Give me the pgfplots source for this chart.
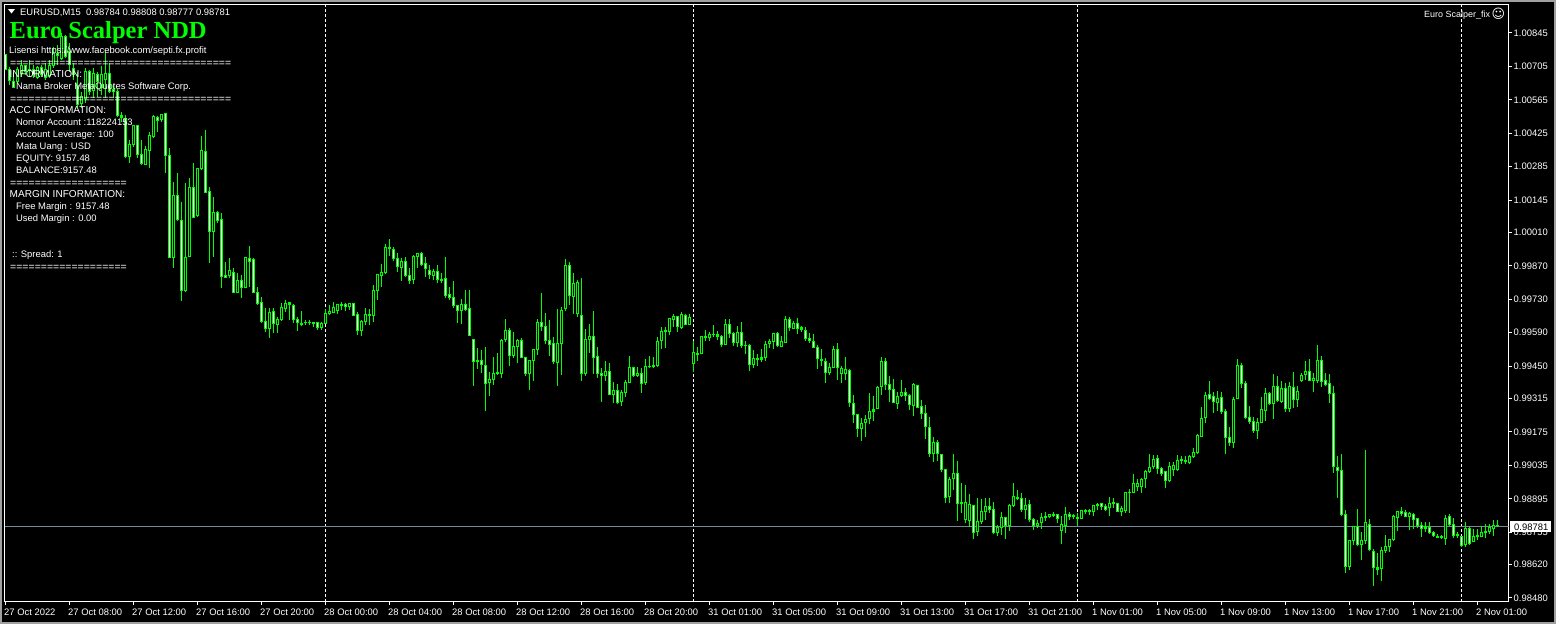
\documentclass[border=0pt]{standalone}
\usepackage{fontspec}
\setmainfont{Liberation Sans}
\newfontfamily\titlefont{Liberation Serif}
\newfontfamily\symfont{DejaVu Sans}
\usepackage{pgfplots}
\usepackage{pgfplotstable}
\pgfplotsset{compat=1.18}
\definecolor{cgreen}{HTML}{00FF00}
\definecolor{bidline}{HTML}{778899}
\definecolor{winframe}{HTML}{A0A0A0}

% bars of the M15 chart, prices in points (1e-5)
\pgfplotstableread{
i h l o c
0 100753 100690 100753 100690
1 100704 100627 100694 100644
2 100683 100613 100641 100618
3 100704 100634 100641 100693
4 100732 100662 100673 100707
5 100708 100669 100707 100683
6 100732 100662 100690 100687
7 100711 100655 100690 100669
8 100708 100651 100659 100700
9 100711 100659 100700 100669
10 100718 100648 100659 100693
11 100732 100655 100665 100707
12 100788 100697 100707 100760
13 100795 100711 100760 100749
14 100843 100732 100739 100830
15 100836 100739 100832 100746
16 100802 100683 100767 100711
17 100718 100648 100697 100669
18 100683 100537 100627 100544
19 100599 100530 100548 100578
20 100697 100551 100571 100683
21 100690 100585 100683 100599
22 100697 100571 100604 100676
23 100683 100578 100673 100641
24 100707 100585 100618 100673
25 100767 100571 100648 100676
26 100718 100595 100676 100599
27 100627 100571 100609 100599
28 100609 100495 100599 100499
29 100516 100474 100498 100492
30 100502 100320 100488 100327
31 100397 100302 100327 100380
32 100460 100369 100376 100456
33 100460 100320 100456 100334
34 100397 100292 100337 100297
35 100372 100292 100294 100358
36 100432 100278 100352 100414
37 100502 100404 100411 100495
38 100498 100432 100492 100478
39 100506 100474 100484 100502
40 100509 100260 100506 100332
41 100362 99902 100332 99906
42 100219 99860 99906 100166
43 100258 100059 100166 100062
44 100139 99721 100062 99767
45 100216 99762 99767 99906
46 100237 99906 99909 100199
47 100299 100069 100199 100072
48 100281 100076 100080 100279
49 100414 100272 100279 100355
50 100439 100174 100348 100177
51 100199 99884 100180 100013
52 100160 99909 100013 100094
53 100101 100048 100094 100059
54 100090 99776 100065 99825
55 99888 99818 99831 99821
56 99902 99818 99831 99849
57 99860 99755 99843 99758
58 99839 99755 99758 99807
59 99832 99734 99807 99781
60 99909 99776 99781 99906
61 99953 99783 99902 99888
62 99902 99755 99895 99758
63 99783 99707 99758 99714
64 99738 99630 99718 99637
65 99692 99595 99638 99606
66 99692 99567 99606 99676
67 99692 99588 99680 99628
68 99658 99588 99624 99646
69 99713 99641 99645 99697
70 99727 99678 99690 99713
71 99720 99644 99715 99709
72 99711 99630 99705 99645
73 99655 99599 99646 99632
74 99680 99618 99630 99625
75 99644 99623 99635 99631
76 99644 99621 99634 99631
77 99637 99616 99635 99630
78 99637 99602 99634 99612
79 99637 99602 99612 99630
80 99688 99627 99627 99671
81 99706 99664 99670 99681
82 99717 99671 99674 99694
83 99710 99669 99685 99710
84 99717 99685 99706 99709
85 99713 99680 99710 99699
86 99713 99685 99698 99713
87 99713 99660 99713 99664
88 99676 99581 99667 99599
89 99643 99577 99599 99638
90 99692 99623 99637 99667
91 99690 99623 99662 99667
92 99790 99637 99662 99765
93 99836 99727 99766 99832
94 99878 99783 99829 99843
95 99962 99836 99840 99949
96 99982 99911 99942 99948
97 99950 99892 99939 99902
98 99924 99846 99902 99867
99 99902 99807 99863 99889
100 99907 99825 99889 99829
101 99860 99794 99828 99808
102 99916 99794 99812 99911
103 99922 99860 99910 99922
104 99927 99871 99922 99875
105 99906 99825 99881 99857
106 99872 99815 99851 99833
107 99856 99811 99829 99847
108 99874 99797 99847 99812
109 99839 99797 99807 99814
110 99906 99737 99818 99744
111 99783 99727 99751 99736
112 99807 99694 99738 99702
113 99708 99632 99705 99683
114 99730 99627 99683 99709
115 99769 99683 99709 99687
116 99769 99577 99692 99578
117 99563 99367 99563 99469
118 99525 99438 99475 99469
119 99518 99420 99475 99457
120 99530 99264 99454 99377
121 99424 99325 99381 99395
122 99489 99371 99394 99420
123 99504 99413 99419 99424
124 99563 99401 99419 99558
125 99648 99553 99560 99600
126 99609 99451 99600 99494
127 99595 99483 99494 99533
128 99564 99462 99532 99558
129 99567 99483 99558 99486
130 99490 99409 99487 99419
131 99476 99351 99419 99475
132 99521 99388 99473 99521
133 99648 99497 99521 99634
134 99755 99597 99634 99614
135 99673 99543 99617 99558
136 99644 99493 99558 99540
137 99571 99459 99546 99469
138 99690 99365 99464 99546
139 99697 99413 99544 99684
140 99899 99683 99691 99872
141 99888 99706 99872 99745
142 99839 99669 99741 99797
143 99811 99657 99670 99801
144 99818 99388 99663 99419
145 99606 99409 99419 99563
146 99627 99504 99561 99575
147 99681 99417 99575 99486
148 99530 99402 99491 99419
149 99441 99302 99420 99411
150 99472 99388 99411 99429
151 99462 99330 99429 99331
152 99383 99298 99330 99349
153 99376 99292 99349 99296
154 99351 99285 99302 99341
155 99392 99323 99339 99383
156 99493 99378 99381 99445
157 99448 99404 99445 99411
158 99445 99404 99409 99420
159 99444 99339 99420 99377
160 99479 99371 99381 99450
161 99493 99441 99447 99450
162 99489 99444 99447 99455
163 99574 99448 99452 99554
164 99613 99522 99557 99596
165 99616 99526 99595 99600
166 99653 99581 99595 99648
167 99667 99616 99646 99659
168 99660 99595 99659 99616
169 99676 99606 99611 99667
170 99667 99621 99663 99624
171 99669 99621 99624 99655
172 99557 99424 99461 99508
173 99530 99473 99498 99504
174 99576 99501 99505 99575
175 99601 99554 99569 99575
176 99594 99557 99569 99583
177 99622 99574 99581 99583
178 99599 99558 99583 99575
179 99580 99532 99575 99540
180 99647 99539 99540 99625
181 99646 99569 99625 99586
182 99592 99536 99587 99548
183 99617 99529 99548 99592
184 99634 99527 99592 99536
185 99554 99502 99538 99536
186 99543 99431 99537 99456
187 99518 99442 99456 99483
188 99500 99452 99479 99483
189 99521 99467 99480 99487
190 99555 99473 99486 99541
191 99564 99525 99543 99554
192 99590 99523 99553 99587
193 99592 99532 99587 99536
194 99576 99529 99532 99554
195 99660 99548 99548 99646
196 99654 99599 99646 99611
197 99640 99604 99607 99629
198 99650 99585 99629 99607
199 99618 99592 99612 99604
200 99615 99557 99600 99565
201 99589 99546 99567 99557
202 99585 99525 99554 99529
203 99537 99438 99529 99481
204 99521 99451 99479 99472
205 99483 99380 99470 99423
206 99462 99413 99423 99444
207 99534 99441 99444 99521
208 99547 99392 99521 99444
209 99451 99380 99419 99441
210 99488 99392 99421 99437
211 99437 99281 99433 99297
212 99329 99214 99295 99247
213 99249 99154 99249 99188
214 99233 99138 99188 99211
215 99244 99154 99214 99228
216 99338 99208 99229 99261
217 99324 99222 99261 99269
218 99367 99272 99272 99362
219 99488 99329 99363 99470
220 99484 99350 99470 99373
221 99408 99302 99374 99352
222 99396 99295 99353 99297
223 99341 99271 99293 99324
224 99392 99322 99327 99341
225 99357 99304 99341 99327
226 99334 99267 99328 99289
227 99378 99242 99285 99374
228 99373 99274 99370 99278
229 99308 99228 99282 99251
230 99286 99145 99253 99197
231 99236 99071 99194 99085
232 99154 99049 99085 99131
233 99141 99052 99131 99085
234 99082 99009 99081 99017
235 99018 98877 99018 98900
236 98988 98879 98903 98976
237 99082 98932 98979 99002
238 99052 98802 99002 98875
239 98961 98834 98880 98875
240 98953 98795 98808 98880
241 98915 98778 98802 98872
242 98868 98727 98868 98755
243 98897 98739 98757 98801
244 98893 98790 98799 98843
245 98897 98806 98841 98863
246 98897 98834 98863 98850
247 98880 98748 98851 98753
248 98785 98739 98753 98776
249 98838 98744 98776 98817
250 98820 98727 98817 98784
251 98873 98760 98785 98868
252 98961 98859 98866 98905
253 98932 98890 98901 98896
254 98921 98840 98897 98850
255 98897 98810 98850 98868
256 98890 98798 98872 98808
257 98813 98764 98809 98781
258 98806 98772 98781 98792
259 98834 98770 98795 98817
260 98838 98801 98816 98819
261 98830 98813 98819 98829
262 98840 98817 98826 98831
263 98830 98794 98830 98812
264 98823 98706 98762 98788
265 98861 98753 98785 98830
266 98838 98806 98831 98819
267 98830 98812 98826 98819
268 98834 98783 98816 98812
269 98849 98809 98812 98844
270 98853 98832 98840 98844
271 98853 98829 98840 98844
272 98869 98823 98842 98867
273 98876 98849 98867 98871
274 98878 98847 98874 98864
275 98874 98844 98864 98851
276 98903 98823 98858 98876
277 98897 98855 98881 98875
278 98878 98840 98876 98843
279 98865 98821 98843 98853
280 98922 98837 98847 98920
281 98935 98837 98920 98921
282 98998 98918 98921 98960
283 98978 98929 98946 98960
284 98981 98921 98945 98977
285 99016 98939 98978 99010
286 99081 99002 99009 99028
287 99079 99019 99028 99061
288 99079 99000 99065 99022
289 99030 98991 99023 99000
290 99013 98942 99008 98971
291 99051 98964 98970 99031
292 99048 98991 99017 99035
293 99077 99013 99017 99056
294 99072 99041 99055 99059
295 99075 99041 99055 99049
296 99080 99041 99045 99073
297 99109 99065 99070 99090
298 99165 99083 99087 99162
299 99281 99153 99155 99232
300 99340 99214 99235 99328
301 99388 99309 99331 99313
302 99344 99256 99324 99302
303 99347 99264 99300 99316
304 99341 99250 99320 99260
305 99270 99083 99261 99153
306 99194 99116 99153 99130
307 99320 99109 99130 99312
308 99480 99312 99314 99454
309 99462 99360 99454 99379
310 99390 99229 99379 99235
311 99284 99208 99236 99217
312 99236 99169 99218 99179
313 99232 99146 99181 99215
314 99320 99211 99215 99267
315 99358 99222 99264 99337
316 99344 99288 99337 99294
317 99418 99229 99294 99366
318 99407 99299 99366 99306
319 99386 99298 99303 99358
320 99381 99260 99358 99273
321 99383 99257 99274 99365
322 99425 99274 99362 99312
323 99365 99281 99310 99345
324 99420 99383 99388 99412
325 99473 99393 99414 99429
326 99479 99386 99429 99390
327 99420 99344 99390 99400
328 99539 99379 99390 99472
329 99493 99362 99472 99387
330 99420 99365 99390 99372
331 99416 99295 99377 99337
332 99369 99002 99337 99030
333 99072 98900 99027 99013
334 99083 98823 99015 98830
335 98849 98586 98830 98611
336 98723 98597 98611 98719
337 98782 98702 98719 98777
338 98853 98698 98779 98703
339 98758 98637 98703 98722
340 99100 98706 98720 98797
341 98811 98677 98789 98681
342 98684 98528 98676 98607
343 98667 98577 98599 98607
344 98695 98549 98603 98680
345 98744 98667 98678 98696
346 98726 98674 98695 98726
347 98828 98720 98723 98823
348 98844 98762 98816 98840
349 98860 98821 98841 98832
350 98849 98818 98837 98821
351 98841 98765 98821 98832
352 98837 98768 98830 98808
353 98814 98772 98811 98783
354 98796 98737 98784 98770
355 98796 98754 98777 98769
356 98796 98748 98776 98755
357 98762 98737 98755 98741
358 98747 98730 98738 98734
359 98744 98726 98738 98731
360 98828 98702 98730 98814
361 98832 98779 98823 98786
362 98814 98730 98786 98740
363 98758 98730 98741 98747
364 98737 98692 98737 98698
365 98798 98695 98705 98772
366 98775 98702 98772 98709
367 98770 98713 98716 98738
368 98768 98723 98736 98742
369 98779 98734 98737 98756
370 98788 98730 98754 98759
371 98788 98748 98758 98775
372 98805 98741 98770 98784
373 98808 98777 98784 98781
}\candles

\newcommand{\tl}[3]{\node[anchor=base west,inner sep=0pt,text=white,font=\fontsize{9.45}{11}\selectfont] at (#1bp,-#2bp) {#3};}
\newcommand{\tlc}[3]{\node[anchor=base west,inner sep=0pt,text=white,font=\fontsize{10.1}{11}\selectfont] at (#1bp,-#2bp) {#3};}
\newcommand{\eqs}[3]{\node[anchor=base west,inner sep=0pt,text=white,font=\fontsize{10.55}{11}\selectfont] at (#1bp,-#2bp) {#3};}

\begin{document}
\begin{tikzpicture}
\useasboundingbox (0,0) rectangle (1556bp,-624bp);
\fill[winframe] (0,0) rectangle (1556bp,-624bp);
\fill[black] (2bp,-2bp) rectangle (1554bp,-622bp);
\begin{axis}[
  at={(4.5bp,-601.5bp)},
  anchor=south west,
  scale only axis,
  width=1504bp,
  height=597bp,
  xmin=-0.25, xmax=375.75,
  ymin=98465, ymax=100964,
  axis line style={white,line width=1bp},
  tick style={white,line width=1bp},
  major tick length=3bp,
  tick align=outside,
  xtick pos=lower,
  ytick pos=right,
  xtick={0,16,...,368},
  xticklabels={27 Oct 2022,27 Oct 08:00,27 Oct 12:00,27 Oct 16:00,27 Oct 20:00,28 Oct 00:00,28 Oct 04:00,28 Oct 08:00,28 Oct 12:00,28 Oct 16:00,28 Oct 20:00,31 Oct 01:00,31 Oct 05:00,31 Oct 09:00,31 Oct 13:00,31 Oct 17:00,31 Oct 21:00,1 Nov 01:00,1 Nov 05:00,1 Nov 09:00,1 Nov 13:00,1 Nov 17:00,1 Nov 21:00,2 Nov 01:00},
  ytick={100845,100705,100565,100425,100285,100145,100010,99870,99730,99590,99450,99315,99175,99035,98895,98755,98620,98480},
  yticklabels={1.00845,1.00705,1.00565,1.00425,1.00285,1.00145,1.00010,0.99870,0.99730,0.99590,0.99450,0.99315,0.99175,0.99035,0.98895,0.98755,0.98620,0.98480},
  scaled y ticks=false,
  tick label style={text=white,font=\fontsize{9.45}{11}\selectfont},
  xticklabel style={anchor=north west,inner xsep=0pt,xshift=-1.5bp,yshift=-1bp},
  yticklabel style={anchor=west,inner xsep=0pt,xshift=2bp},
  clip=true,
]
% day separators, behind the bars
\addplot[white,line width=1bp,dash pattern=on 3bp off 2bp,forget plot] coordinates {(80,98465) (80,100964)};
\addplot[white,line width=1bp,dash pattern=on 3bp off 2bp,forget plot] coordinates {(172,98465) (172,100964)};
\addplot[white,line width=1bp,dash pattern=on 3bp off 2bp,forget plot] coordinates {(268,98465) (268,100964)};
\addplot[white,line width=1bp,dash pattern=on 3bp off 2bp,forget plot] coordinates {(364,98465) (364,100964)};
% bid line
\addplot[bidline,line width=1bp,forget plot] coordinates {(-0.25,98781) (375.75,98781)};
% wicks
\addplot[draw=none,mark=none,forget plot,
  error bars/.cd,y dir=both,y explicit,error mark=none,
  error bar style={draw=cgreen,line width=1bp,line cap=butt}]
  table[x=i,y=h,y error plus expr=0,y error minus expr=\thisrow{h}-\thisrow{l}] {\candles};
% body outlines
\addplot[draw=none,mark=none,forget plot,
  error bars/.cd,y dir=both,y explicit,error mark=none,
  error bar style={draw=cgreen,line width=3bp,line cap=butt}]
  table[x=i,y expr={max(\thisrow{o},\thisrow{c})+2},y error plus expr=0,y error minus expr={abs(\thisrow{o}-\thisrow{c})+4}] {\candles};
% falling bars, white inside
\addplot[draw=none,mark=none,forget plot,
  restrict expr to domain={\thisrow{o}-\thisrow{c}}{9:100000},
  error bars/.cd,y dir=both,y explicit,error mark=none,
  error bar style={draw=white,line width=1bp,line cap=butt}]
  table[x=i,y expr=\thisrow{o}-2.2,y error plus expr=0,y error minus expr=\thisrow{o}-\thisrow{c}-4.4] {\candles};
% rising bars, black inside
\addplot[draw=none,mark=none,forget plot,
  restrict expr to domain={\thisrow{c}-\thisrow{o}}{9:100000},
  error bars/.cd,y dir=both,y explicit,error mark=none,
  error bar style={draw=black,line width=1bp,line cap=butt}]
  table[x=i,y expr=\thisrow{c}-2.2,y error plus expr=0,y error minus expr=\thisrow{c}-\thisrow{o}-4.4] {\candles};
\end{axis}
% header and info panel
\fill[white] (8bp,-9bp) -- (15bp,-9bp) -- (11.5bp,-13.5bp) -- cycle;
\tl{20}{15.5}{EURUSD,M15\ \ 0.98784 0.98808 0.98777 0.98781}
\node[anchor=base west,inner sep=0pt,text=cgreen,font=\titlefont\bfseries\fontsize{24.6}{26}\selectfont] at (9.5bp,-38bp) {Euro Scalper NDD};
\tl{9}{53.5}{Lisensi https://www.facebook.com/septi.fx.profit}
\eqs{10}{66}{====================================}
\tlc{9.5}{77.5}{INFORMATION:}
\tl{16}{89.5}{Nama Broker MetaQuotes Software Corp.}
\eqs{10}{102}{====================================}
\tlc{9.5}{113.5}{ACC INFORMATION:}
\tl{16}{125.5}{Nomor Account :118224153}
\tl{16}{137.5}{Account Leverage: 100}
\tl{16}{149.5}{Mata Uang : USD}
\tl{16}{161.5}{EQUITY: 9157.48}
\tl{16}{173.5}{BALANCE:9157.48}
\eqs{10}{186}{===================}
\tlc{9.5}{197.5}{MARGIN INFORMATION:}
\tl{16}{209.5}{Free Margin : 9157.48}
\tl{16}{221.5}{Used Margin : 0.00}
\tl{12}{257.5}{:: Spread: 1}
\eqs{10}{270}{===================}
\node[anchor=base west,inner sep=0pt,text=white,font=\fontsize{9}{11}\selectfont] at (1424bp,-17.5bp) {Euro Scalper\_fix};
\node[anchor=base west,inner sep=0pt,text=white,font=\symfont\fontsize{13}{13}\selectfont] at (1491.5bp,-18bp) {☺};
% current price tag
\fill[white] (1510bp,-520.5bp) rectangle (1551bp,-532bp);
\node[anchor=base west,inner sep=0pt,text=black,font=\fontsize{9.45}{11}\selectfont] at (1514bp,-530bp) {0.98781};
\end{tikzpicture}
\end{document}
